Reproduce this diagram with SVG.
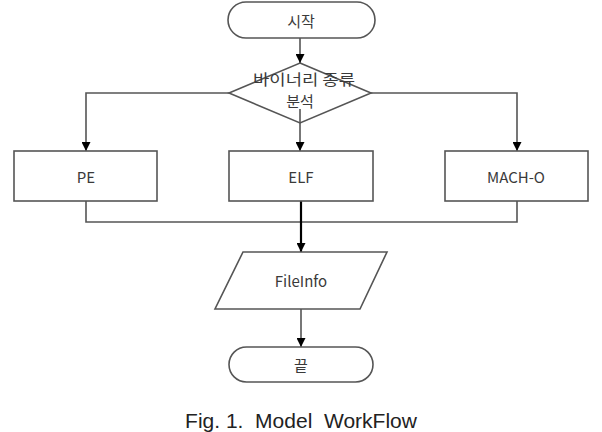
<svg xmlns="http://www.w3.org/2000/svg" width="602" height="432" viewBox="0 0 602 432">
<defs>
<marker id="arr" viewBox="0 0 10 10" refX="10" refY="5" markerWidth="9" markerHeight="9" markerUnits="userSpaceOnUse" orient="auto">
<path d="M0,0 L10,5 L0,10 z" fill="#000"/>
</marker>
</defs>
<style>
.shape{fill:#fff;stroke:#555;stroke-width:1.6}
.lbl{font-family:"Noto Sans CJK KR","Liberation Sans",sans-serif;font-size:15px;fill:#3a3a3a;text-anchor:middle;dominant-baseline:central}
.con{fill:none;stroke:#555;stroke-width:1.6}
.bold{fill:none;stroke:#000;stroke-width:2.2}
.cap{font-family:"Liberation Sans",Arial,sans-serif;font-size:21px;fill:#222;text-anchor:middle}
</style>
<g id="start">
<rect class="shape" x="228" y="2" width="147" height="36" rx="18"/>
<text class="lbl" x="301" y="20">시작</text>
</g>
<g id="decision">
<polygon class="shape" points="300,63 371,93 300,123 229,93"/>
</g>
<g id="connectors">
<path class="con" d="M300,38 V63" marker-end="url(#arr)"/>
<path class="con" d="M300,109 V151" marker-end="url(#arr)"/>
<path class="con" d="M229,93 H86 V151" marker-end="url(#arr)"/>
<path class="con" d="M371,93 H517 V151" marker-end="url(#arr)"/>
<path class="con" d="M86,201 V222 H517 V201"/>
<path class="bold" d="M301,201 V252" marker-end="url(#arr)"/>
<path class="con" d="M301,309 V347" marker-end="url(#arr)"/>
</g>
<g id="decision-label">
<text class="lbl" x="304" y="78" textLength="102" lengthAdjust="spacingAndGlyphs">바이너리 종류</text>
<text class="lbl" x="300" y="100">분석</text>
</g>
<g id="pe">
<rect class="shape" x="14" y="151" width="143" height="50"/>
<text class="lbl" x="86" y="176">PE</text>
</g>
<g id="elf">
<rect class="shape" x="229" y="151" width="144" height="50"/>
<text class="lbl" x="301" y="176">ELF</text>
</g>
<g id="macho">
<rect class="shape" x="445" y="151" width="143" height="50"/>
<text class="lbl" x="516" y="176">MACH-O</text>
</g>
<g id="fileinfo">
<polygon class="shape" points="243,252 387,252 360,309 215,309"/>
<text class="lbl" x="301" y="280">FileInfo</text>
</g>
<g id="end">
<rect class="shape" x="229" y="347" width="144" height="35" rx="17.5"/>
<text class="lbl" x="301" y="364.5">끝</text>
</g>
<text class="cap" x="301" y="428" xml:space="preserve">Fig. 1.  Model  WorkFlow</text>
</svg>
